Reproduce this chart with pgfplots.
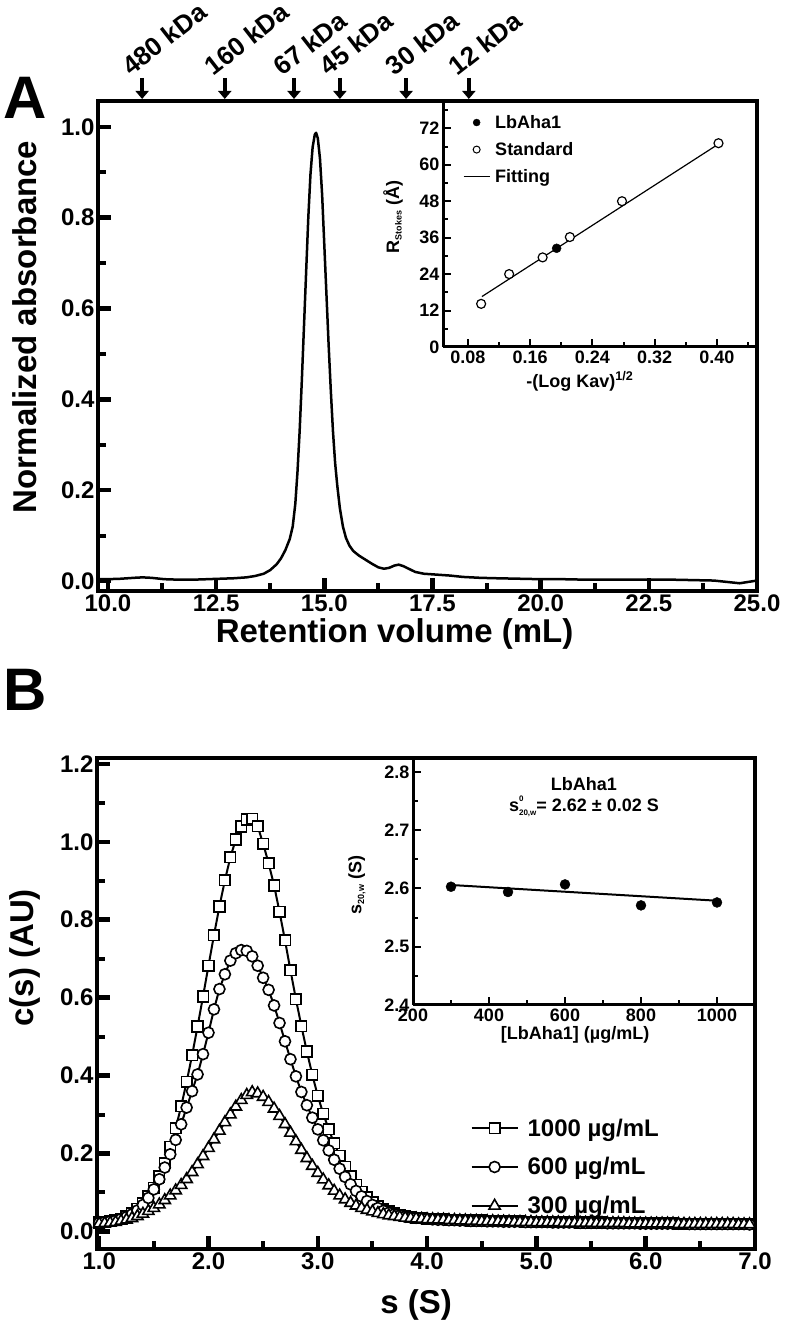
\documentclass[border=0pt]{standalone}
\usepackage{fontspec}
\setmainfont{Liberation Sans}
\usepackage{pgfplots}
\pgfplotsset{compat=1.18}
\usepackage{pgfplotstable}
\usetikzlibrary{arrows.meta}

\newcommand{\fs}[1]{\fontsize{#1}{#1}\selectfont\bfseries}

\pgfplotstableread{
x y
9.77 0.004
10.0 0.004
10.3 0.005
10.6 0.007
10.8 0.008
11.0 0.007
11.3 0.004
11.6 0.003
12.0 0.003
12.3 0.004
12.6 0.005
12.9 0.006
13.2 0.008
13.4 0.011
13.6 0.016
13.75 0.024
13.9 0.037
14.0 0.050
14.1 0.068
14.2 0.092
14.27 0.12
14.33 0.17
14.38 0.24
14.43 0.33
14.48 0.44
14.53 0.56
14.58 0.68
14.63 0.80
14.68 0.895
14.73 0.955
14.78 0.983
14.81 0.987
14.85 0.975
14.90 0.93
14.95 0.85
15.00 0.74
15.05 0.63
15.10 0.52
15.15 0.42
15.20 0.33
15.25 0.26
15.30 0.21
15.36 0.16
15.43 0.12
15.50 0.095
15.58 0.078
15.67 0.066
15.80 0.056
15.95 0.047
16.10 0.038
16.25 0.030
16.38 0.027
16.50 0.029
16.62 0.034
16.72 0.036
16.82 0.033
16.95 0.027
17.1 0.020
17.3 0.016
17.6 0.014
17.9 0.012
18.2 0.009
18.6 0.007
19.0 0.006
19.5 0.005
20.0 0.004
20.5 0.004
21.0 0.003
21.5 0.003
22.0 0.003
22.5 0.003
23.0 0.003
23.5 0.002
24.0 0.001
24.3 -0.002
24.6 -0.005
24.8 -0.002
25.0 0.001
}\curveA

\pgfplotstableread{
s sq ci tr
1.00 0.023 0.022 0.020
1.05 0.024 0.024 0.021
1.10 0.026 0.026 0.022
1.15 0.029 0.028 0.024
1.20 0.033 0.032 0.027
1.25 0.039 0.037 0.030
1.30 0.047 0.044 0.034
1.35 0.058 0.054 0.039
1.40 0.072 0.068 0.045
1.45 0.090 0.086 0.052
1.50 0.112 0.108 0.060
1.55 0.141 0.134 0.069
1.60 0.175 0.164 0.080
1.65 0.217 0.198 0.092
1.70 0.265 0.235 0.105
1.75 0.321 0.275 0.119
1.80 0.384 0.318 0.134
1.85 0.452 0.360 0.152
1.90 0.526 0.403 0.172
1.95 0.603 0.455 0.193
2.00 0.682 0.510 0.214
2.05 0.760 0.570 0.236
2.10 0.834 0.622 0.258
2.15 0.901 0.660 0.280
2.20 0.960 0.695 0.300
2.25 1.006 0.714 0.320
2.30 1.039 0.722 0.337
2.35 1.057 0.720 0.350
2.40 1.059 0.706 0.357
2.45 1.040 0.682 0.354
2.50 0.995 0.651 0.345
2.55 0.945 0.620 0.332
2.60 0.888 0.580 0.315
2.65 0.820 0.535 0.296
2.70 0.747 0.488 0.275
2.75 0.670 0.442 0.253
2.80 0.596 0.398 0.231
2.85 0.527 0.358 0.209
2.90 0.462 0.324 0.188
2.95 0.402 0.292 0.168
3.00 0.348 0.262 0.150
3.05 0.302 0.234 0.133
3.10 0.262 0.208 0.118
3.15 0.226 0.184 0.104
3.20 0.194 0.161 0.092
3.25 0.166 0.140 0.082
3.30 0.141 0.121 0.073
3.35 0.120 0.104 0.066
3.40 0.102 0.090 0.060
3.45 0.087 0.078 0.055
3.50 0.075 0.068 0.051
3.55 0.065 0.060 0.047
3.60 0.057 0.053 0.044
3.65 0.051 0.048 0.041
3.70 0.046 0.044 0.039
3.75 0.042 0.041 0.037
3.80 0.039 0.038 0.035
3.85 0.037 0.036 0.034
3.90 0.035 0.035 0.033
3.95 0.034 0.034 0.032
4.00 0.033 0.033 0.031
4.05 0.032 0.031 0.031
4.10 0.031 0.030 0.030
4.15 0.031 0.030 0.030
4.20 0.030 0.029 0.029
4.25 0.030 0.029 0.029
4.30 0.029 0.028 0.028
4.35 0.029 0.028 0.028
4.40 0.028 0.027 0.027
4.45 0.028 0.027 0.027
4.50 0.028 0.027 0.026
4.55 0.027 0.026 0.026
4.60 0.027 0.026 0.026
4.65 0.027 0.026 0.025
4.70 0.026 0.025 0.025
4.75 0.026 0.025 0.025
4.80 0.026 0.025 0.024
4.85 0.026 0.025 0.024
4.90 0.025 0.024 0.024
4.95 0.025 0.024 0.024
5.00 0.025 0.024 0.023
5.05 0.025 0.024 0.023
5.10 0.025 0.024 0.023
5.15 0.024 0.023 0.023
5.20 0.024 0.023 0.023
5.25 0.024 0.023 0.022
5.30 0.024 0.023 0.022
5.35 0.024 0.023 0.022
5.40 0.023 0.022 0.022
5.45 0.023 0.022 0.022
5.50 0.023 0.022 0.022
5.55 0.023 0.022 0.021
5.60 0.023 0.022 0.021
5.65 0.022 0.021 0.021
5.70 0.022 0.021 0.021
5.75 0.022 0.021 0.021
5.80 0.022 0.021 0.021
5.85 0.022 0.021 0.020
5.90 0.022 0.021 0.020
5.95 0.021 0.020 0.020
6.00 0.021 0.020 0.020
6.05 0.021 0.020 0.020
6.10 0.021 0.020 0.020
6.15 0.021 0.020 0.020
6.20 0.021 0.020 0.020
6.25 0.021 0.020 0.020
6.30 0.020 0.020 0.019
6.35 0.020 0.020 0.019
6.40 0.020 0.019 0.019
6.45 0.020 0.019 0.019
6.50 0.020 0.019 0.019
6.55 0.020 0.019 0.019
6.60 0.020 0.019 0.019
6.65 0.020 0.019 0.019
6.70 0.020 0.019 0.019
6.75 0.019 0.019 0.019
6.80 0.019 0.019 0.019
6.85 0.019 0.019 0.018
6.90 0.019 0.019 0.018
6.95 0.019 0.018 0.018
}\curveB

\pgfplotsset{
  mainax/.style={
    scale only axis, anchor=south west,
    axis line style={line width=4.5pt},
    tick align=inside,
    xtick pos=left, ytick pos=left,
    major tick length=13pt, minor tick length=8pt,
    every major tick/.append style={line width=4.5pt,black},
    every minor tick/.append style={line width=4pt,black},
    minor tick num=1,
    /pgf/number format/assume math mode=true,
    tick label style={font=\fs{24}},
    label style={font=\fs{33}},
    clip=false,
  },
  insetax/.style={
    scale only axis, anchor=south west,
    axis x line=bottom, axis y line=left,
    axis line style={-, line width=3pt},
    tick align=inside,
    major tick length=8pt, minor tick length=5pt,
    every major tick/.append style={line width=2pt,black},
    every minor tick/.append style={line width=2pt,black},
    /pgf/number format/assume math mode=true,
    tick label style={font=\fs{18}},
    label style={font=\fs{18}},
    clip=false,
  },
}

\begin{document}
\begin{tikzpicture}[x=1pt,y=1pt]
\useasboundingbox (0,0) rectangle (786,1327);

%================ Panel A ================
\begin{axis}[mainax,
  at={(98pt,736pt)}, width=659pt, height=490pt,
  xmin=9.77, xmax=25, ymin=-0.022, ymax=1.057,
  xtick={10,12.5,15,17.5,20,22.5,25},
  ytick={0,0.2,0.4,0.6,0.8,1.0},
  xticklabel style={/pgf/number format/.cd,fixed,fixed zerofill,precision=1,/tikz/.cd},
  yticklabel style={/pgf/number format/.cd,fixed,fixed zerofill,precision=1,/tikz/.cd},
  xlabel={Retention volume (mL)},
  ylabel={Normalized absorbance},
  xlabel style={at={(axis description cs:0.45,-0.088)}, anchor=center},
  ylabel style={at={(axis description cs:-0.111,0.539)}, anchor=center},
]
\addplot[black, line width=2.5pt, line join=round] table[x=x,y=y] {\curveA};
\foreach \p/\t in {10.79/480 kDa, 12.70/160 kDa, 14.30/67 kDa, 15.36/45 kDa, 16.89/30 kDa, 18.34/12 kDa}{
  \edef\temp{\noexpand\draw[line width=4pt, -{Triangle[width=13pt,length=8pt]}] ([yshift=23pt]axis cs:\p,1.057) -- ([yshift=2pt]axis cs:\p,1.057);
  \noexpand\node[rotate=38, anchor=south west, inner sep=0pt, font=\noexpand\fs{26}] at ([xshift=-11pt,yshift=24pt]axis cs:\p,1.057) {\t};}
  \temp
}
\end{axis}

%================ Inset A ================
\begin{axis}[insetax,
  at={(443pt,980pt)}, width=314pt, height=246pt,
  xmin=0.048, xmax=0.4515, ymin=0, ymax=81,
  xtick={0.08,0.16,0.24,0.32,0.40},
  minor xtick={0.12,0.20,0.28,0.36,0.44},
  ytick={0,12,24,36,48,60,72},
  minor ytick={6,18,30,42,54,66,78},
  xticklabel style={/pgf/number format/.cd,fixed,fixed zerofill,precision=2,/tikz/.cd},
  xlabel={-(Log Kav)\textsuperscript{1/2}},
  ylabel={R\textsubscript{\fs{9}Stokes} (Å)},
  xlabel style={at={(axis description cs:0.436,-0.14)}, anchor=center},
  ylabel style={at={(axis description cs:-0.159,0.53)}, anchor=center},
  legend style={draw=none, fill=none, at={(0.06,0.955)}, anchor=north west,
    font=\fs{18}, row sep=8.5pt, inner sep=1pt,
    /tikz/every odd column/.append style={column sep=3pt}},
  legend cell align=left,
  legend image code/.code={\draw[mark repeat=2,mark phase=2,#1] plot coordinates {(0pt,0pt) (13pt,0pt) (26pt,0pt)};},
]
\addplot[black, line width=1.2pt, forget plot] coordinates {(0.098,16.6) (0.400,66.5)};
\addplot[only marks, mark=*, mark size=4.5pt, mark options={fill=white, draw=black, line width=1.2pt}, forget plot]
  coordinates {(0.097,14.2) (0.133,24.0) (0.176,29.5) (0.211,36.2) (0.278,48.0) (0.402,67.1)};
\addplot[only marks, mark=*, mark size=4.5pt, black, forget plot] coordinates {(0.194,32.5)};
\addlegendimage{only marks, mark=*, mark size=3.5pt, black}
\addlegendentry{LbAha1}
\addlegendimage{only marks, mark=*, mark size=3.5pt, mark options={fill=white, draw=black, line width=1pt}}
\addlegendentry{Standard}
\addlegendimage{black, line width=1.2pt}
\addlegendentry{Fitting}
\end{axis}

%================ Panel B ================
\begin{axis}[mainax,
  at={(97pt,78pt)}, width=658pt, height=491pt,
  xmin=0.98, xmax=7.0, ymin=-0.045, ymax=1.215,
  xtick={1,2,3,4,5,6,7},
  ytick={0,0.2,0.4,0.6,0.8,1.0,1.2},
  xticklabel style={/pgf/number format/.cd,fixed,fixed zerofill,precision=1,/tikz/.cd},
  yticklabel style={/pgf/number format/.cd,fixed,fixed zerofill,precision=1,/tikz/.cd},
  xlabel={s (S)},
  ylabel={c(s) (AU)},
  xlabel style={at={(axis description cs:0.485,-0.114)}, anchor=center},
  ylabel style={at={(axis description cs:-0.109,0.593)}, anchor=center},
  legend style={draw=none, fill=none, at={(0.566,0.272)}, anchor=north west,
    font=\fs{24}, row sep=16pt, inner sep=1pt,
    /tikz/every odd column/.append style={column sep=7pt}},
  legend cell align=left,
  legend image code/.code={\draw[mark repeat=2,mark phase=2,#1] plot coordinates {(0pt,0pt) (23pt,0pt) (46pt,0pt)};},
]
\addplot[black, line width=2pt, mark=square*, mark size=5.3pt, mark options={fill=white, line width=1.6pt, solid}]
  table[x=s,y=sq] {\curveB};
\addlegendentry{1000 µg/mL}
\addplot[black, line width=2pt, mark=*, mark size=5.5pt, mark options={fill=white, line width=1.6pt, solid}]
  table[x=s,y=ci] {\curveB};
\addlegendentry{600 µg/mL}
\addplot[black, line width=2pt, mark=triangle*, mark size=6.5pt, mark options={fill=white, line width=1.6pt, solid}]
  table[x=s,y=tr] {\curveB};
\addlegendentry{300 µg/mL}
\end{axis}

%================ Inset B ================
\begin{axis}[insetax,
  at={(413pt,322pt)}, width=342pt, height=247pt,
  xmin=200, xmax=1100, ymin=2.4, ymax=2.824,
  xtick={200,400,600,800,1000},
  minor xtick={300,500,700,900},
  ytick={2.4,2.5,2.6,2.7,2.8},
  minor ytick={2.45,2.55,2.65,2.75},
  yticklabel style={/pgf/number format/.cd,fixed,fixed zerofill,precision=1,/tikz/.cd},
  xticklabel style={/pgf/number format/.cd,fixed,1000 sep={},/tikz/.cd},
  xlabel={[LbAha1] (µg/mL)},
  ylabel={s\textsubscript{\fs{9}20,w} (S)},
  xlabel style={at={(axis description cs:0.474,-0.121)}, anchor=center},
  ylabel style={at={(axis description cs:-0.164,0.486)}, anchor=center},
]
\addplot[black, line width=2pt] coordinates {(300,2.606) (1000,2.579)};
\addplot[only marks, mark=*, mark size=5pt, black]
  coordinates {(300,2.603) (450,2.594) (600,2.607) (800,2.571) (1000,2.576)};
\node[align=center, font=\fontsize{18}{21}\selectfont\bfseries] at (axis cs:650,2.757)
  {LbAha1\\s\rlap{\raisebox{0.55em}{\fs{8}0}}\raisebox{-0.25em}{\fs{8}20,w}= 2.62 ± 0.02 S};
\end{axis}

%================ panel letters ================
\node[font=\fs{60}, inner sep=0pt] at (25,1229) {A};
\node[font=\fs{60}, inner sep=0pt] at (25,637) {B};
\end{tikzpicture}
\end{document}
